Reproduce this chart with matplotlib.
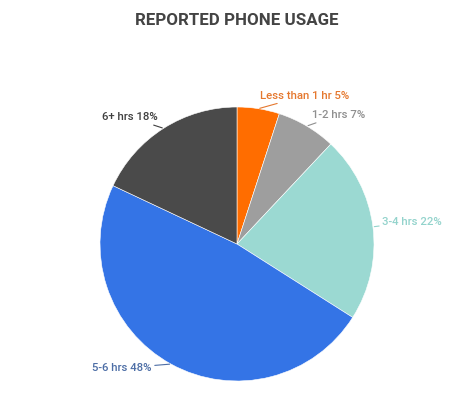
import matplotlib
matplotlib.use("Agg")
import matplotlib.pyplot as plt
import numpy as np

categories = ["Less than 1 hr", "1-2 hrs", "3-4 hrs", "5-6 hrs", "6+ hrs"]
values = [5, 7, 22, 48, 18]
slice_colors = ["#ff6d00", "#9e9e9e", "#9bd9d2", "#3474e6", "#4a4a4a"]
label_colors = ["#e5782f", "#8f8f8f", "#93d3cc", "#4d6ea6", "#3f3f3f"]

W, H = 474, 405
cx, cy, R = 237, 244, 137

fig = plt.figure(figsize=(W / 100, H / 100), dpi=100)
ax = fig.add_axes([0, 0, 1, 1])
ax.axis("off")

wedges, _ = ax.pie(values, colors=slice_colors, startangle=90, counterclock=False,
                   radius=1, center=(0, 0), wedgeprops=dict(edgecolor="white", linewidth=0.4))
ax.set_aspect("equal")
ax.set_xlim(-cx / R, (W - cx) / R)
ax.set_ylim(-(H - cy) / R, cy / R)

# label offsets in pixels from the wedge edge at mid-angle
offsets = [(2, 13), (5, 11), (9, 5), (-19, -4), (-6, 11)]
aligns = ["left", "left", "left", "right", "right"]

total = sum(values)
cum = 0
for i, (cat, v) in enumerate(zip(categories, values)):
    mid = 90 - (cum + v / 2) / total * 360
    cum += v
    ex, ey = np.cos(np.radians(mid)), np.sin(np.radians(mid))
    ax.annotate(f"{cat} {v}%", xy=(ex, ey), xytext=offsets[i], textcoords="offset pixels",
                ha=aligns[i], va="center", fontsize=8.2, family="Roboto", fontweight="medium",
                color=label_colors[i],
                arrowprops=dict(arrowstyle="-", color=label_colors[i], lw=0.8,
                                shrinkA=0, shrinkB=1))

fig.text(0.5, 1 - 20.5 / H, "REPORTED PHONE USAGE", ha="center", va="center",
         fontsize=12.2, family="Roboto", fontweight="bold", color="#444444")

fig.savefig("out.png", dpi=100, facecolor="white")
